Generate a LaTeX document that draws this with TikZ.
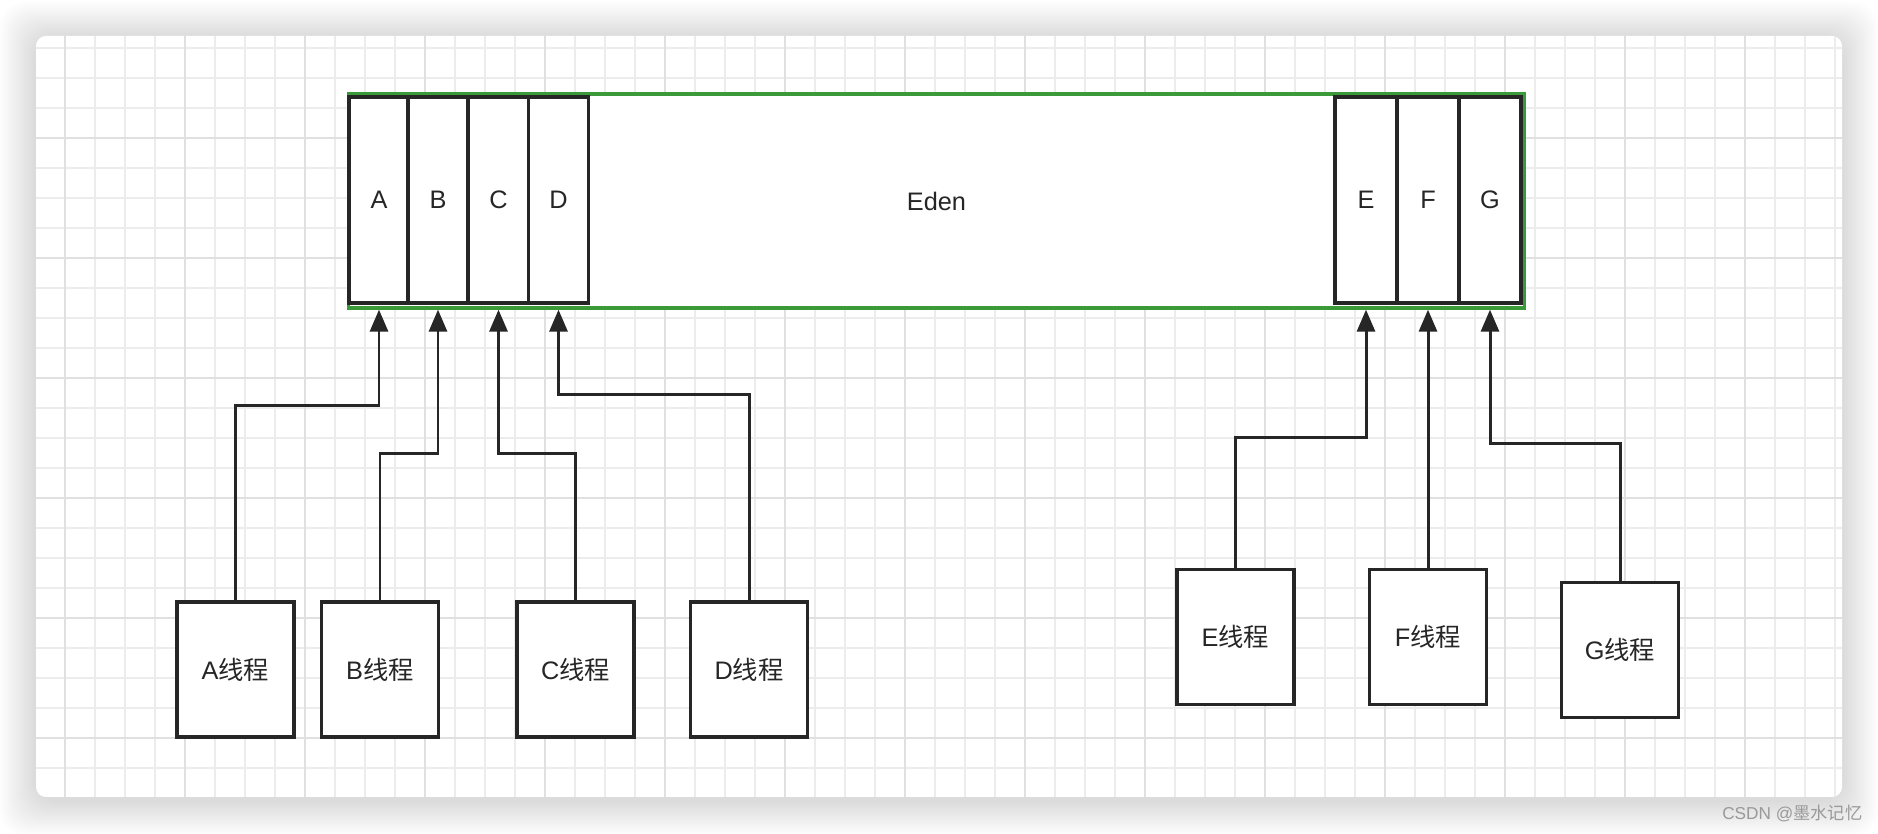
\documentclass[tikz,border=0pt]{standalone}
\usepackage{fontspec}
\setmainfont{Liberation Sans}
\newfontfamily\cjk{Noto Sans CJK SC}
\usepackage{tikz}
\usetikzlibrary{calc,arrows.meta}

\definecolor{edengreen}{RGB}{58,154,58}
\definecolor{inkdark}{RGB}{38,38,38}
\definecolor{gridminor}{RGB}{236,236,236}
\definecolor{gridmajor}{RGB}{224,224,224}

\begin{document}
\begin{tikzpicture}[x=0.01cm, y=-0.01cm,
    cell/.style   = {draw=inkdark, line width=0.95pt, fill=white, inner sep=0pt,
                     minimum width=0.6cm, minimum height=2.06cm},
    slim/.style   = {cell, minimum width=0.62cm},
    eden/.style   = {draw=edengreen, line width=0.9pt, fill=white, inner sep=0pt,
                     minimum width=11.75cm, minimum height=2.14cm},
    thread/.style = {draw=inkdark, line width=0.95pt, fill=white, inner sep=0pt,
                     minimum width=1.17cm, minimum height=1.35cm},
    link/.style   = {draw=inkdark, line width=0.85pt,
                     -{Triangle[length=0.22cm,width=0.18cm]}}]
  \tikzset{every node/.style={anchor=center, text centered, text=inkdark,
                              font=\fontsize{7.2}{8.6}\selectfont}}
  \useasboundingbox (0,0) rectangle (1878,834);
  \fill[white] (0,0) rectangle (1878,834);

  % shadow and sheet
  \foreach \s in {1,...,18}
    \fill[black, opacity=0.0095, rounded corners=0.25cm]
      (36-2*\s,36-2*\s+2) rectangle (1842+2*\s,797+2*\s+3);
  \fill[white, rounded corners=0.1cm] (36,36) rectangle (1842,797);
  \begin{scope}
    \clip[rounded corners=0.1cm] (36,36) rectangle (1842,797);
    \foreach \x in {65,95,...,1835}
      \draw[gridminor, line width=0.55pt] (\x,36) -- (\x,797);
    \foreach \y in {48,78,...,790}
      \draw[gridminor, line width=0.55pt] (36,\y) -- (1842,\y);
    \foreach \x in {65,185,...,1835}
      \draw[gridmajor, line width=0.55pt] (\x,36) -- (\x,797);
    \foreach \y in {18,138,...,790}
      \draw[gridmajor, line width=0.55pt] (36,\y) -- (1842,\y);
  \end{scope}

  % eden space
  \node[eden] (eden) at (936.5,201) {Eden};
  \node[cell] (A) at (379,200) {A};
  \node[cell] (B) at (438,200) {B};
  \node[cell] (C) at (498.5,200) {C};
  \node[cell] (D) at (558.5,200) {D};
  \node[slim] (E) at (1366,200) {E};
  \node[slim] (F) at (1428,200) {F};
  \node[slim] (G) at (1490,200) {G};

  % threads
  \node[thread] (tA) at (235.5,669.5) {A{\cjk 线程}};
  \node[thread] (tB) at (380,669.5)   {B{\cjk 线程}};
  \node[thread] (tC) at (575.5,669.5) {C{\cjk 线程}};
  \node[thread] (tD) at (749,669.5)   {D{\cjk 线程}};
  \node[thread] (tE) at (1235.5,637)  {E{\cjk 线程}};
  \node[thread] (tF) at (1428,637)    {F{\cjk 线程}};
  \node[thread] (tG) at (1620,650)    {G{\cjk 线程}};

  \coordinate (kA) at (0,406);
  \coordinate (kB) at (0,454);
  \coordinate (kC) at (0,454);
  \coordinate (kD) at (0,395);
  \coordinate (kE) at (0,438);
  \coordinate (kG) at (0,444);

  \draw[link] (tA.north) -- (tA.north |- kA) -| (A |- eden.south);
  \draw[link] (tB.north) -- (tB.north |- kB) -| (B |- eden.south);
  \draw[link] (tC.north) -- (tC.north |- kC) -| (C |- eden.south);
  \draw[link] (tD.north) -- (tD.north |- kD) -| (D |- eden.south);
  \draw[link] (tE.north) -- (tE.north |- kE) -| (E |- eden.south);
  \draw[link] (tF.north) -- (F |- eden.south);
  \draw[link] (tG.north) -- (tG.north |- kG) -| (G |- eden.south);

  \node[anchor=east, inner sep=0pt, text=black!40, font=\fontsize{4.9}{6}\selectfont] (mark)
    at (1863,813) {CSDN @{\cjk 墨水记忆}};
\end{tikzpicture}
\end{document}
